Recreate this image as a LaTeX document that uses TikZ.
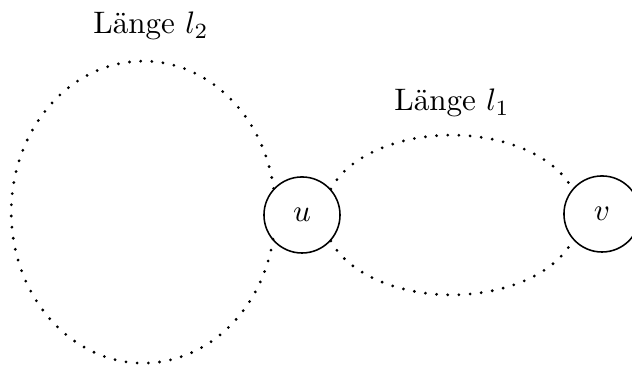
\documentclass[tikz,border=0pt]{standalone}
\begin{document}
\begin{tikzpicture}[x=0.0113cm,y=0.0113cm,
    knoten/.style={draw,circle,line width=0.5pt,minimum size=0.86cm,inner sep=0pt},
    punkte/.style={line width=1pt,line cap=round,dash pattern=on 0pt off 3.6pt}]
        \useasboundingbox (0,0) rectangle (632,368);
        %knoten
        \node[knoten] (u) at (302,153) {$u$};
        \node[knoten] (v) at (602,154) {$v$};
        %schleife an u
        \draw[punkte] (u.137) arc[start angle=9,end angle=351,x radius=132,y radius=151];
        \node (l2) at (151,342) {L\"ange $l_2$};
        %zwei wege zwischen u und v
        \draw[punkte] (u.42) arc[start angle=162,end angle=18,x radius=127,y radius=78]; %oben
        \draw[punkte] (u.-42) arc[start angle=198,end angle=342,x radius=127,y radius=78]; %unten
        \node (l1) at (452,265) {L\"ange $l_1$};
    \end{tikzpicture}
\end{document}
